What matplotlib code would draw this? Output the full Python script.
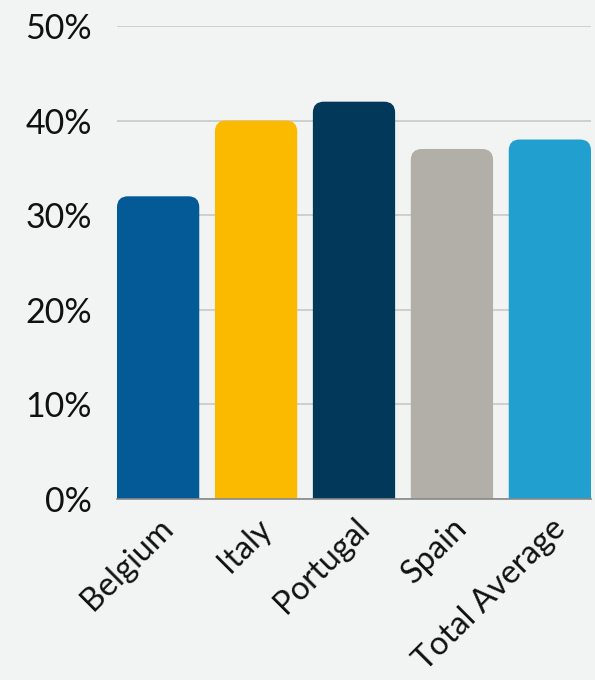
import matplotlib
matplotlib.use("Agg")
import matplotlib.pyplot as plt
from matplotlib.patches import FancyBboxPatch
from matplotlib.ticker import FuncFormatter

categories = ["Belgium", "Italy", "Portugal", "Spain", "Total Average"]
values = [32, 40, 42, 37, 38]
colors = ["#035a97", "#fbb900", "#02395a", "#b2afa8", "#21a0cf"]
yticks = [0, 10, 20, 30, 40, 50]

W, H, DPI = 595, 680, 100
bg = "#f2f4f3"
fig = plt.figure(figsize=(W / DPI, H / DPI), dpi=DPI, facecolor=bg)
left, right, top, bottom = 117, 591, 26, 499
ax = fig.add_axes([left / W, (H - bottom) / H, (right - left) / W, (bottom - top) / H])
ax.set_facecolor(bg)

bw = 0.84
xmin, xmax = -0.42, 4.42
ymin, ymax = 0, 50
ax.set_xlim(xmin, xmax)
ax.set_ylim(ymin, ymax)

px_per_x = (right - left) / (xmax - xmin)
px_per_y = (bottom - top) / (ymax - ymin)
r_px = 11
rx = r_px / px_per_x
aspect = px_per_x / px_per_y

for i, (v, c) in enumerate(zip(values, colors)):
    base = -3
    p = FancyBboxPatch((i - bw / 2, base), bw, v - base,
                       boxstyle=f"round,pad=0,rounding_size={rx}",
                       mutation_aspect=aspect, facecolor=c, edgecolor="none",
                       zorder=3, clip_on=True)
    ax.add_patch(p)

ax.set_yticks(yticks)
ax.yaxis.set_major_formatter(FuncFormatter(lambda v, p: f"{int(v)}%"))
ax.grid(axis="y", color="#cccccc", linewidth=1.3, zorder=0)
ax.set_axisbelow(True)
for s in ["top", "right", "left"]:
    ax.spines[s].set_visible(False)
ax.spines["bottom"].set_color("#888888")
ax.spines["bottom"].set_linewidth(1.2)
ax.spines["bottom"].set_zorder(4)

ax.set_xticks(range(len(categories)))
ax.set_xticklabels(categories, rotation=45, ha="right", va="top",
                   rotation_mode="anchor", fontsize=23.5, family="Lato", color="#111111")
ax.tick_params(axis="x", length=0, pad=10)
ax.tick_params(axis="y", length=0, pad=18, labelsize=24.5, labelcolor="#111111")
for t in ax.get_yticklabels():
    t.set_family("Lato")

fig.savefig("out.png", dpi=DPI, facecolor=bg)
